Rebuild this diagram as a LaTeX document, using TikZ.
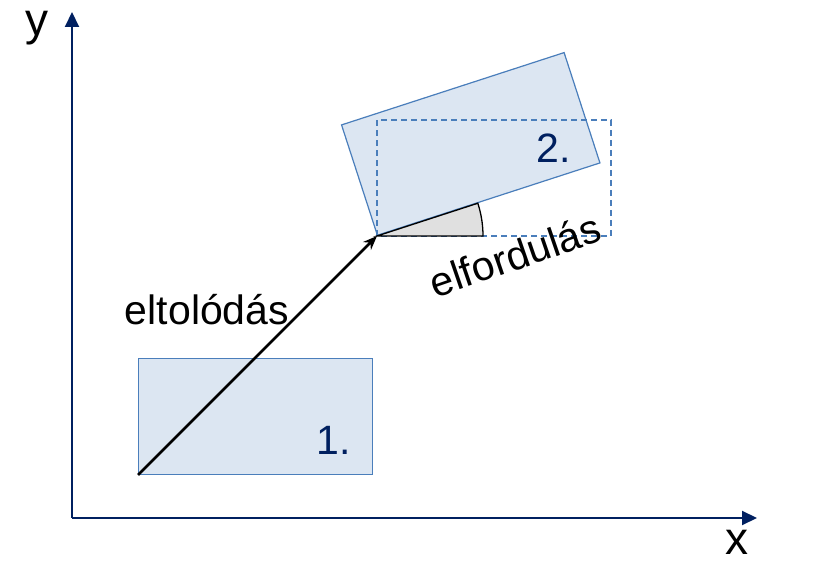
\documentclass[tikz,border=0pt]{standalone}
\usepackage{fontspec}
\setmainfont{Liberation Sans}
\usetikzlibrary{arrows.meta,positioning,calc}
\definecolor{boxfill}{HTML}{DCE6F2}
\definecolor{boxline}{HTML}{4A7EBB}
\definecolor{axisblue}{HTML}{002060}
\begin{document}
\begin{tikzpicture}[x=1pt, y=1pt,
    box/.style={draw=boxline, fill=boxfill, line width=1.2pt, minimum width=234pt, minimum height=116pt, inner sep=0pt, anchor=south west},
    ghost/.style={draw=boxline, line width=1.4pt, dash pattern=on 6pt off 4pt},
    axis/.style={draw=axisblue, line width=2pt, -{Triangle[length=15pt,width=14pt]}},
    arr/.style={-{Stealth[length=14pt,width=11pt]}, line width=2.5pt},
    lbl/.style={font=\fontsize{41}{48}\selectfont},
    axlbl/.style={font=\fontsize{46}{54}\selectfont, inner sep=1pt},
    num/.style={font=\fontsize{41}{48}\selectfont, text=axisblue}
]
\useasboundingbox (0,0) rectangle (834,564);
% axes
\coordinate (O) at (72,46);
\coordinate (xend) at (757,46);
\coordinate (yend) at (72,552);
\draw[axis] (O) -- (xend);
\draw[axis] (O) -- (yend);
\node[axlbl] (xlbl) at (737,22) {x};
\node[axlbl] (ylbl) at (37,536) {y};
% boxes
\node[box] (r1) at (138,89) {};
\node[num] (n1) at (334,124) {1.};
\node[box, rotate=18] (r2) at (377,328) {};
\coordinate (g0) at (377,328);
\draw[ghost] (g0) rectangle ++(234,116);
\node[num] (n2) at (554,416) {2.};
% rotation wedge
\filldraw[fill=black!12, draw=black, line width=1.3pt] (r2.south west) -- ++(106,0) arc[start angle=0, end angle=18, radius=106] -- cycle;
% displacement
\draw[arr] (r1.south west) -- (r2.south west);
\node[lbl] (shiftlbl) at (207,254) {eltolódás};
\node[lbl, rotate=19] (rotlbl) at (515,309) {elfordulás};
\end{tikzpicture}
\end{document}
